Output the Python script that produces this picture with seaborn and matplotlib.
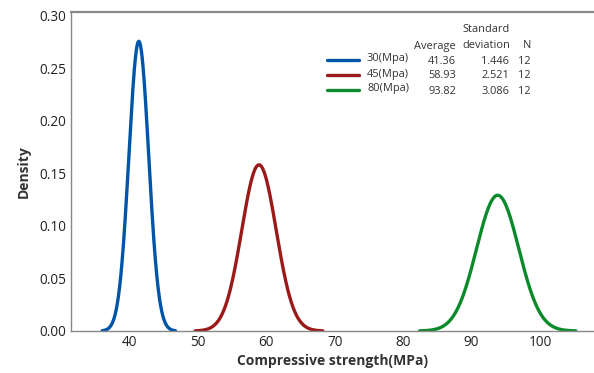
import numpy as np
import pandas as pd
import matplotlib
matplotlib.use("Agg")
import matplotlib.pyplot as plt
import seaborn as sns

groups = ["30(Mpa)", "45(Mpa)", "80(Mpa)"]
means = [41.36, 58.93, 93.82]
sds = [1.446, 2.521, 3.086]
ns = [12, 12, 12]
colors = ["#0055A8", "#9A1A1A", "#0B8A2B"]
xticks = [40, 50, 60, 70, 80, 90, 100]
yticks = [0.00, 0.05, 0.10, 0.15, 0.20, 0.25, 0.30]

sns.set_theme(style="white")
plt.rcParams["font.family"] = ["Open Sans", "DejaVu Sans"]

rows = []
for g, m, s in zip(groups, means, sds):
    xs = np.linspace(m - 3.7 * s, m + 3.7 * s, 300)
    pdf = np.exp(-0.5 * ((xs - m) / s) ** 2) / (s * np.sqrt(2 * np.pi))
    rows.append(pd.DataFrame({"x": xs, "density": pdf, "group": g}))
df = pd.concat(rows, ignore_index=True)

fig = plt.figure(figsize=(5.94, 3.73), dpi=100)
ax = fig.add_axes([71 / 594, 42 / 373, 1 - 71 / 594, (331 - 12) / 373])

sns.lineplot(data=df, x="x", y="density", hue="group", palette=colors,
             linewidth=2.4, ax=ax, legend=False)

ax.set_xlim(31.45, 107.9)
ax.set_ylim(0, 0.3038)
ax.set_xticks(xticks)
ax.set_xticklabels([str(t) for t in xticks])
ax.set_yticks(yticks)
ax.set_yticklabels([f"{t:.2f}" for t in yticks])
ax.tick_params(axis="both", labelsize=9.8, colors="#222222", length=3,
               width=1, direction="out", pad=0.5)
ax.tick_params(axis="both", color="#888888")
ax.tick_params(axis="x", length=0, pad=3)
for side in ["left", "top", "bottom"]:
    ax.spines[side].set_visible(True)
    ax.spines[side].set_color("#888888")
ax.spines["left"].set_linewidth(1.0)
ax.spines["bottom"].set_linewidth(1.0)
ax.spines["top"].set_linewidth(1.6)
ax.spines["right"].set_visible(False)

ax.set_xlabel("Compressive strength(MPa)", fontsize=10, fontweight="bold",
              color="#333333", labelpad=3)
ax.set_ylabel("Density", fontsize=10, fontweight="bold", color="#333333",
              labelpad=6)

# legend table
fs = 7.9
tc = "#333333"
def fx(px):
    return px / 594
def fy(py):
    return 1 - py / 373

fig.text(fx(510), fy(30), "Standard", ha="right", va="center", fontsize=fs, color=tc)
fig.text(fx(456), fy(46), "Average", ha="right", va="center", fontsize=fs, color=tc)
fig.text(fx(510), fy(46), "deviation", ha="right", va="center", fontsize=fs, color=tc)
fig.text(fx(531), fy(46), "N", ha="right", va="center", fontsize=fs, color=tc)
row_y = [61, 76, 91]
for g, m, s, n, c, y in zip(groups, means, sds, ns, colors, row_y):
    fig.add_artist(plt.Line2D([fx(327), fx(359)], [fy(y - 1), fy(y - 1)], color=c,
                              linewidth=2.4, transform=fig.transFigure))
    fig.text(fx(409), fy(y - 2), g, ha="right", va="center", fontsize=fs, color=tc)
    fig.text(fx(456), fy(y), f"{m:.2f}", ha="right", va="center", fontsize=fs, color=tc)
    fig.text(fx(509), fy(y), f"{s:.3f}", ha="right", va="center", fontsize=fs, color=tc)
    fig.text(fx(531), fy(y), f"{n}", ha="right", va="center", fontsize=fs, color=tc)

fig.savefig("out.png", dpi=100)
